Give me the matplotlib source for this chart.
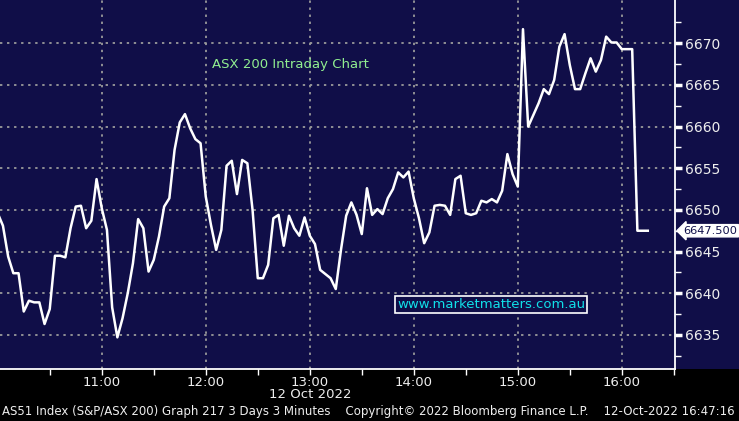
import matplotlib
matplotlib.use("Agg")
import matplotlib.pyplot as plt
from matplotlib.patches import Rectangle
from matplotlib.ticker import FixedLocator

# minutes since 10:00, 3-minute bars
start_min = 0
step_min = 3
values = [
    6649.6, 6648.1, 6644.4, 6642.4, 6642.4, 6637.8, 6639.1, 6638.9, 6638.9, 6636.3,
    6638.1, 6644.5, 6644.5, 6644.3, 6647.8, 6650.4, 6650.5, 6647.8, 6648.7, 6653.7,
    6650.2, 6647.6, 6638.3, 6634.7, 6637.0, 6640.0, 6643.6, 6648.9, 6647.8, 6642.6,
    6644.0, 6646.8, 6650.4, 6651.4, 6657.2, 6660.5, 6661.5, 6659.8, 6658.5, 6658.0,
    6651.6, 6648.2, 6645.2, 6647.6, 6655.3, 6655.9, 6651.9, 6656.0, 6655.6, 6650.0,
    6641.8, 6641.8, 6643.4, 6649.0, 6649.4, 6645.7, 6649.3, 6647.8, 6646.9, 6649.1,
    6646.9, 6645.9, 6642.8, 6642.3, 6641.8, 6640.5, 6645.2, 6649.3, 6650.9, 6649.4,
    6647.1, 6652.6, 6649.4, 6650.1, 6649.5, 6651.4, 6652.5, 6654.5, 6653.9, 6654.6,
    6651.4, 6649.0, 6646.0, 6647.3, 6650.5, 6650.6, 6650.5, 6649.4, 6653.7, 6654.1,
    6649.6, 6649.4, 6649.6, 6651.1, 6650.9, 6651.3, 6650.9, 6652.3, 6656.7, 6654.3,
    6652.8, 6671.7, 6660.0, 6661.4, 6662.8, 6664.5, 6663.9, 6665.6, 6669.6, 6671.1,
    6667.4, 6664.5, 6664.5, 6666.4, 6668.2, 6666.6, 6668.0, 6670.8, 6670.1, 6670.1,
    6669.3, 6669.3, 6669.3, 6647.5, 6647.5, 6647.5,
]
times = [start_min + i * step_min for i in range(len(values))]

hour_ticks = [60, 120, 180, 240, 300, 360]
hour_labels = ["11:00", "12:00", "13:00", "14:00", "15:00", "16:00"]
y_ticks = [6635, 6640, 6645, 6650, 6655, 6660, 6665, 6670]
last_price = 6647.5
last_label = "6647.500"
title = "ASX 200 Intraday Chart"
date_label = "12 Oct 2022"
footer = "AS51 Index (S&P/ASX 200) Graph 217 3 Days 3 Minutes    Copyright\u00a9 2022 Bloomberg Finance L.P.    12-Oct-2022 16:47:16"
watermark = "www.marketmatters.com.au"

NAVY = "#100e48"
W, H = 739, 421
fig = plt.figure(figsize=(W / 100, H / 100), dpi=100, facecolor="black")

ax_right = 675 / W
ax_bottom = 1 - 369 / H
bg = Rectangle((ax_right, ax_bottom), 1 - ax_right, 1 - ax_bottom,
               transform=fig.transFigure, facecolor=NAVY,
               edgecolor="none", zorder=-10)
fig.patches.append(bg)

ax = fig.add_axes([0, ax_bottom, ax_right, 1 - ax_bottom])
ax.set_zorder(1)
ax.set_facecolor(NAVY)

ax.plot(times, values, color="white", lw=1.8, zorder=3)
ax.set_xlim(1.3, 390.7)
ax.set_ylim(6630.9, 6675.2)

grid_kw = dict(color="#9a9a9a", lw=1.3, linestyle=(0, (1.3, 2.6)), zorder=1)
for t in hour_ticks:
    ax.axvline(t, **grid_kw)
for v in y_ticks:
    ax.axhline(v, **grid_kw)

for s in ["top", "left"]:
    ax.spines[s].set_visible(False)
for s in ["bottom", "right"]:
    ax.spines[s].set_color("white")
    ax.spines[s].set_linewidth(1.3)

ax.yaxis.tick_right()
ax.set_yticks(y_ticks)
ax.set_yticklabels([str(v) for v in y_ticks])
ax.yaxis.set_minor_locator(FixedLocator([6632.5 + 5 * i for i in range(9)]))
ax.tick_params(axis="y", which="major", direction="out", length=5, width=2.5,
               colors="white", labelcolor="#eeeeee", labelsize=10, pad=2)
ax.tick_params(axis="y", which="minor", direction="out", length=4, width=1,
               colors="white")

ax.set_xticks(hour_ticks)
ax.set_xticklabels(hour_labels)
ax.xaxis.set_minor_locator(FixedLocator([30, 90, 150, 210, 270, 330, 390]))
ax.tick_params(axis="x", which="major", direction="out", length=4, width=1,
               colors="white", labelcolor="#eeeeee", labelsize=9.5, pad=1)
ax.tick_params(axis="x", which="minor", direction="out", length=4, width=1,
               colors="white")

ax.text(0.43, 0.825, title, transform=ax.transAxes, color="#90ee90",
        fontsize=9.5, ha="center", va="center")

ax.text(0.728, 0.174, watermark, transform=ax.transAxes, color="#10e0e8",
        fontsize=9.5, ha="center", va="center",
        bbox=dict(boxstyle="square,pad=0.15", fc=NAVY, ec="white", lw=1.2))

ax.annotate(last_label, xy=(1.0, last_price), xycoords=("axes fraction", "data"),
            xytext=(6, 0), textcoords="offset points", ha="left", va="center",
            fontsize=8.2, color="#10104a", annotation_clip=False, zorder=5,
            bbox=dict(boxstyle="larrow,pad=0.1", fc="white", ec="white"))

fig.text(310 / W, 1 - 394 / H, date_label, color="#eeeeee", fontsize=9.5,
         ha="center", va="center")
fig.text(2 / W, 1 - 411 / H, footer, color="#eeeeee", fontsize=8.5,
         ha="left", va="center")

fig.savefig("out.png", dpi=100, facecolor="black")
